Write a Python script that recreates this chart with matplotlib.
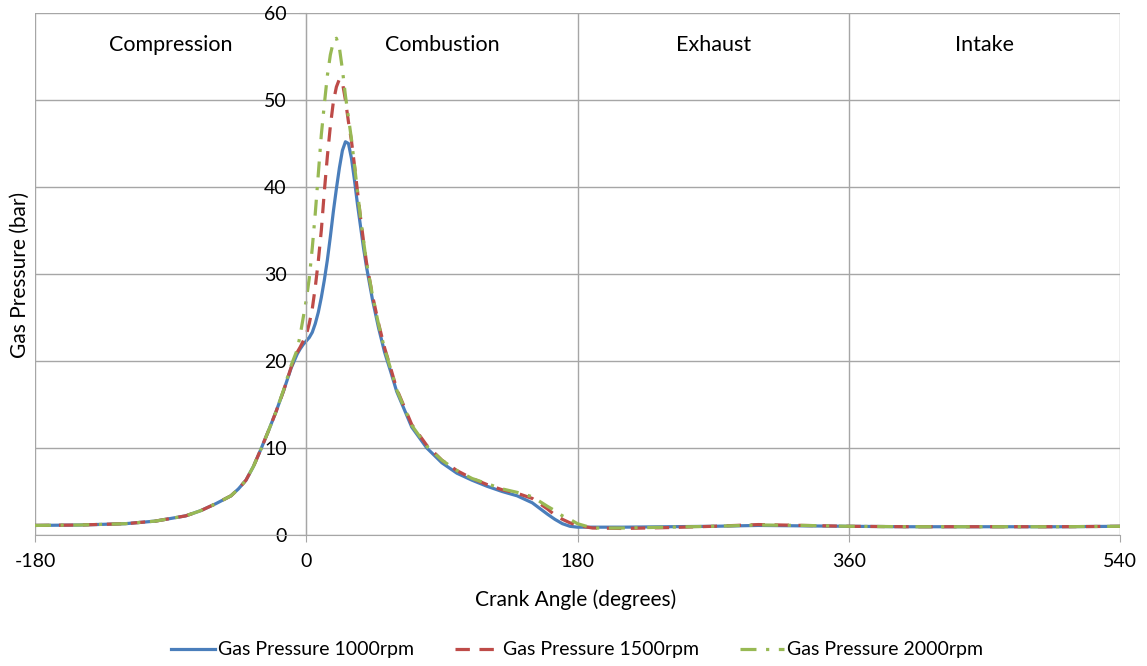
import numpy as np
import matplotlib
matplotlib.use("Agg")
import matplotlib.pyplot as plt

plt.rcParams['font.family'] = ['Lato', 'DejaVu Sans']
plt.rcParams['axes.unicode_minus'] = False

# crank angle (degrees)
angle = [-180, -150, -120, -100, -80, -70, -60, -50, -45, -40, -35, -30, -25, -20,
         -15, -10, -6, -4, -2,
         0, 2, 4, 6, 8, 10, 12, 14, 16, 18, 20, 22, 24, 26, 28, 30, 32, 34, 36, 38, 40,
         44, 48, 52, 56, 60, 70, 80, 90, 100, 110, 120, 130, 140, 150, 160, 165, 170,
         175, 180, 190, 210, 240, 270, 300, 330, 360, 400, 450, 500, 540]

# gas pressure (bar)
p_1000 = [1.1, 1.15, 1.3, 1.6, 2.2, 2.8, 3.6, 4.5, 5.3, 6.3, 7.9, 9.9, 12.0, 14.2,
          16.6, 19.2, 20.8, 21.4, 21.9,
          22.3, 22.7, 23.3, 24.3, 25.6, 27.3, 29.3, 31.6, 34.3, 37.2, 39.8, 42.2, 44.2,
          45.2, 45.0, 43.3, 40.8, 38.0, 35.5, 33.0, 30.8,
          27.0, 23.8, 21.0, 18.8, 16.5, 12.4, 10.0, 8.3, 7.1, 6.3, 5.6, 5.0, 4.5, 3.7,
          2.4, 1.8, 1.3, 1.0, 0.9, 0.9, 0.9, 0.95, 1.0, 1.1, 1.05, 1.0, 0.95, 0.95, 0.95,
          1.0]
p_1500 = [1.1, 1.15, 1.3, 1.6, 2.2, 2.8, 3.6, 4.5, 5.3, 6.3, 7.9, 9.9, 12.0, 14.2,
          16.6, 19.3, 21.0, 21.6, 22.3,
          23.0, 24.3, 26.0, 28.5, 31.5, 35.0, 39.5, 43.5, 47.0, 49.8, 51.5, 52.4, 52.0,
          50.0, 47.5, 45.3, 42.5, 39.5, 36.5, 33.8, 31.3,
          27.5, 24.3, 21.5, 19.2, 16.8, 12.7, 10.3, 8.6, 7.4, 6.5, 5.8, 5.2, 4.8, 4.2,
          3.0, 2.3, 1.8, 1.4, 1.1, 0.8, 0.75, 0.85, 1.0, 1.2, 1.1, 1.0, 0.95, 0.95, 0.95,
          1.0]
p_2000 = [1.1, 1.15, 1.3, 1.6, 2.2, 2.8, 3.6, 4.5, 5.3, 6.3, 7.9, 9.9, 12.0, 14.2,
          16.7, 19.5, 21.3, 23.0, 25.0,
          27.0, 29.5, 33.0, 37.0, 41.5, 46.0, 49.5, 52.8, 55.2, 56.7, 57.1, 56.0, 53.5,
          50.5, 48.0, 45.5, 42.5, 39.5, 36.5, 33.8, 31.3,
          27.5, 24.2, 21.4, 19.1, 16.7, 12.6, 10.2, 8.6, 7.4, 6.5, 5.9, 5.3, 4.9, 4.4,
          3.3, 2.8, 2.2, 1.8, 1.3, 0.8, 0.8, 0.9, 1.0, 1.15, 1.1, 1.0, 0.95, 0.95, 0.95,
          1.0]

phases = ['Compression', 'Combustion', 'Exhaust', 'Intake']
phase_mid = [-90, 90, 270, 450]

grid_col = '#a6a6a6'

fig = plt.figure(figsize=(11.47, 6.66), dpi=100)
ax = fig.add_axes([35 / 1147, 1 - 535 / 666, (1120 - 35) / 1147, (535 - 13) / 666])

ax.plot(angle, p_1000, color='#4a7ebb', lw=2.3, label='Gas Pressure 1000rpm')
ax.plot(angle, p_1500, color='#be4b48', lw=2.3, dashes=(4.5, 3),
        label='Gas Pressure 1500rpm')
ax.plot(angle, p_2000, color='#98b954', lw=2.3, dashes=(5, 3, 1, 3),
        label='Gas Pressure 2000rpm')

ax.set_xlim(-180, 540)
ax.set_ylim(0, 60)
ax.set_xticks([-180, 0, 180, 360, 540])
ax.set_yticks(np.arange(0, 61, 10))
ax.grid(True, color=grid_col, lw=1)
ax.set_axisbelow(True)

for s in ['top', 'right']:
    ax.spines[s].set_visible(False)
ax.spines['left'].set_position(('data', 0))
ax.spines['left'].set_color(grid_col)
ax.spines['bottom'].set_color(grid_col)
ax.tick_params(axis='x', length=5, color=grid_col, pad=8, labelsize=14)
ax.tick_params(axis='y', length=5, color=grid_col, pad=9, labelsize=14)

for name, x in zip(phases, phase_mid):
    ax.text(x, 56.3, name, ha='center', va='center', fontsize=15.5)

fig.text(20 / 1147, 1 - 275 / 666, 'Gas Pressure (bar)', rotation=90,
         ha='center', va='center', fontsize=15)
fig.text(576 / 1147, 1 - 600 / 666, 'Crank Angle (degrees)',
         ha='center', va='center', fontsize=15)

fig.legend(loc='center', bbox_to_anchor=(577 / 1147, 1 - 650 / 666), ncol=3,
           frameon=False, fontsize=14, handlelength=2.3, handletextpad=0.15,
           columnspacing=2.1)

fig.savefig('out.png', dpi=100)
